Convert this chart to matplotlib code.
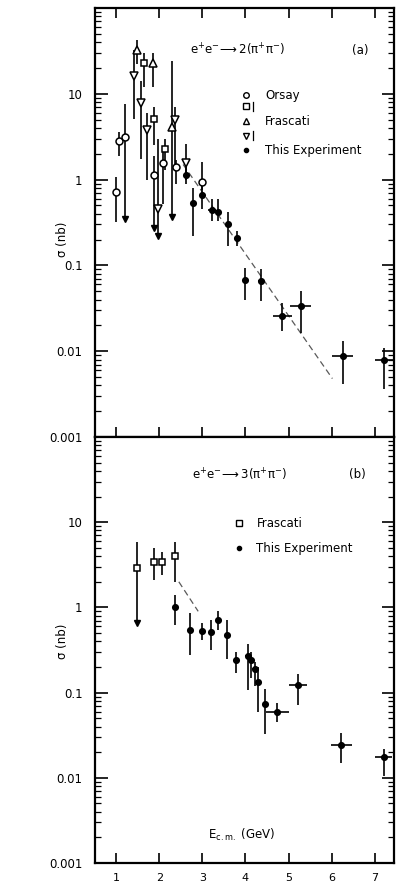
import numpy as np
import matplotlib.pyplot as plt
from matplotlib.ticker import LogLocator, NullFormatter

# ---- panel (a): e+e- -> 2(pi+pi-) ----
orsay_x = [0.98, 1.07, 1.19, 1.88, 2.09, 2.38, 2.99]
orsay_y = [0.72, 2.8, 3.1, 1.14, 1.58, 1.4, 0.94]
orsay_hi = [1.08, 3.6, 7.6, 1.9, 2.4, 1.7, 1.6]
orsay_lo = [0.32, 1.9, 0.35, 0.27, 0.52, 0.9, 0.75]
orsay_arrow = [0, 0, 1, 1, 0, 0, 0]

frasq_x = [1.65, 1.88, 2.14]
frasq_y = [23, 5.1, 2.3]
frasq_hi = [30, 7.0, 3.0]
frasq_lo = [12, 2.5, 1.3]

fratri_x = [1.47, 1.84, 2.29]
fratri_y = [32, 23, 4.1]
fratri_hi = [42, 30, 24]
fratri_lo = [22, 12, 0.37]
fratri_arrow = [0, 0, 1]

fradn_x = [1.40, 1.57, 1.71, 1.96, 2.37, 2.62]
fradn_y = [16, 7.8, 3.8, 0.46, 5.0, 1.58]
fradn_hi = [32, 14, 5.9, 3.0, 7.0, 2.6]
fradn_lo = [5.1, 1.75, 1.0, 0.22, 1.3, 1.0]
fradn_arrow = [0, 0, 0, 1, 0, 0]

exp_a_x = [2.61, 2.79, 2.99, 3.22, 3.37, 3.60, 3.80, 3.98, 4.35, 4.86, 5.28, 6.26, 7.23]
exp_a_y = [1.14, 0.54, 0.66, 0.44, 0.42, 0.30, 0.21, 0.068, 0.065, 0.026, 0.034, 0.0087, 0.0078]
exp_a_hi = [1.5, 0.8, 0.9, 0.6, 0.6, 0.42, 0.25, 0.093, 0.09, 0.036, 0.051, 0.013, 0.011]
exp_a_lo = [0.9, 0.22, 0.45, 0.33, 0.33, 0.17, 0.17, 0.040, 0.038, 0.017, 0.0164, 0.0041, 0.0036]
exp_a_xerr = [0, 0, 0, 0.1, 0, 0, 0, 0, 0.05, 0.22, 0.25, 0.25, 0.21]

fit_a_x = [2.55, 6.02]
fit_a_y = [1.5, 0.0048]

# ---- panel (b): e+e- -> 3(pi+pi-) ----
frasq_b_x = [1.47, 1.88, 2.07, 2.37]
frasq_b_y = [2.9, 3.45, 3.45, 4.05]
frasq_b_hi = [5.9, 5.0, 4.5, 5.9]
frasq_b_lo = [0.66, 2.1, 2.4, 2.0]
frasq_b_arrow = [1, 0, 0, 0]

exp_b_x = [2.37, 2.70, 2.98, 3.19, 3.35, 3.58, 3.79, 4.05, 4.12, 4.21, 4.30, 4.46, 4.74, 5.23, 6.23, 7.21]
exp_b_y = [1.0, 0.55, 0.53, 0.52, 0.72, 0.48, 0.24, 0.27, 0.24, 0.19, 0.135, 0.074, 0.059, 0.123, 0.0245, 0.0174]
exp_b_hi = [1.4, 0.86, 0.65, 0.72, 0.92, 0.72, 0.30, 0.37, 0.30, 0.23, 0.20, 0.11, 0.075, 0.165, 0.034, 0.022]
exp_b_lo = [0.63, 0.28, 0.42, 0.32, 0.55, 0.25, 0.17, 0.108, 0.15, 0.12, 0.06, 0.033, 0.045, 0.072, 0.015, 0.0105]
exp_b_xerr = [0, 0, 0, 0, 0, 0, 0, 0.06, 0.06, 0.06, 0.06, 0, 0.26, 0.21, 0.25, 0.2]

fit_b_x = [2.45, 2.9]
fit_b_y = [2.0, 0.9]

yticks = [0.001, 0.01, 0.1, 1, 10]
ytick_labels = ['0.001', '0.01', '0.1', '1', '10']
xticks = [1, 2, 3, 4, 5, 6, 7]

plt.rcParams['font.family'] = 'DejaVu Sans'
plt.rcParams['mathtext.default'] = 'regular'


def draw(ax, x, y, hi, lo, marker, fill, ms, xerr=None, arrow=None):
    y = np.array(y, dtype=float)
    yerr = [y - np.array(lo), np.array(hi) - y]
    ax.errorbar(x, y, yerr=yerr, xerr=xerr, fmt=marker, ms=ms,
                mfc='k' if fill else 'white', mec='k', mew=1.1,
                ecolor='k', elinewidth=1.2, capsize=0, zorder=3)
    if arrow is not None:
        for xi, li, a in zip(x, lo, arrow):
            if a:
                ax.plot(xi, li, marker='v', ms=3.8, color='k', zorder=3)


def style(ax, top_ticks):
    ax.set_yscale('log')
    ax.set_ylim(0.001, 100)
    ax.set_xlim(0.5, 7.45)
    ax.set_yticks(yticks)
    ax.set_yticklabels(ytick_labels)
    ax.yaxis.set_minor_locator(LogLocator(base=10, subs=np.arange(2, 10)))
    ax.yaxis.set_minor_formatter(NullFormatter())
    ax.set_xticks(xticks)
    ax.tick_params(axis='y', which='major', direction='in', length=9, width=1.2,
                   left=True, right=True, labelsize=8.5, pad=9)
    ax.tick_params(axis='y', which='minor', direction='in', length=4, width=0.9,
                   left=True, right=True)
    ax.tick_params(axis='x', direction='in', length=7, width=1.2,
                   top=top_ticks, bottom=True, labelsize=8, pad=7)
    for s in ax.spines.values():
        s.set_linewidth(1.6)


fig = plt.figure(figsize=(4.04, 8.89), dpi=100)
ax1 = fig.add_axes([0.235, 0.5084, 0.740, 0.4826])
ax2 = fig.add_axes([0.235, 0.0292, 0.740, 0.4792])

# panel (a)
style(ax1, True)
ax1.tick_params(axis='x', labelbottom=False)
ax1.plot(fit_a_x, fit_a_y, ls=(0, (5, 3)), color='0.35', lw=0.9, zorder=2)
draw(ax1, orsay_x, orsay_y, orsay_hi, orsay_lo, 'o', False, 5, arrow=orsay_arrow)
draw(ax1, frasq_x, frasq_y, frasq_hi, frasq_lo, 's', False, 5)
draw(ax1, fratri_x, fratri_y, fratri_hi, fratri_lo, '^', False, 5.5, arrow=fratri_arrow)
draw(ax1, fradn_x, fradn_y, fradn_hi, fradn_lo, 'v', False, 5.5, arrow=fradn_arrow)
draw(ax1, exp_a_x, exp_a_y, exp_a_hi, exp_a_lo, 'o', True, 4, xerr=exp_a_xerr)

ax1.text(0.318, 0.902, r'$e^{+}e^{-}\!\longrightarrow 2(\pi^{+}\pi^{-})$',
         transform=ax1.transAxes, fontsize=8.5, va='center')
ax1.text(0.86, 0.902, '(a)', transform=ax1.transAxes, fontsize=8.5, va='center')

lx = 0.505
ax1.plot(lx, 0.797, 'o', ms=4, mfc='white', mec='k', transform=ax1.transAxes)
ax1.plot(lx, 0.772, 's', ms=4, mfc='white', mec='k', transform=ax1.transAxes)
ax1.plot(lx, 0.736, '^', ms=4.5, mfc='white', mec='k', transform=ax1.transAxes)
ax1.plot(lx, 0.702, 'v', ms=4.5, mfc='white', mec='k', transform=ax1.transAxes)
ax1.plot(lx, 0.669, 'o', ms=3, color='k', transform=ax1.transAxes)
ax1.plot([0.528, 0.528], [0.760, 0.782], color='k', lw=0.9, transform=ax1.transAxes)
ax1.plot([0.528, 0.528], [0.692, 0.714], color='k', lw=0.9, transform=ax1.transAxes)
ax1.text(0.57, 0.797, 'Orsay', transform=ax1.transAxes, fontsize=8.5, va='center')
ax1.text(0.57, 0.736, 'Frascati', transform=ax1.transAxes, fontsize=8.5, va='center')
ax1.text(0.57, 0.669, 'This Experiment', transform=ax1.transAxes, fontsize=8.5, va='center')
ax1.text(-0.11, 0.46, 'σ (nb)', transform=ax1.transAxes, rotation=90,
         fontsize=8.5, ha='center', va='center')

# panel (b)
style(ax2, False)
ax2.set_xticklabels([str(v) for v in xticks])
ax2.plot(fit_b_x, fit_b_y, ls=(0, (5, 3)), color='0.35', lw=0.9, zorder=2)
draw(ax2, frasq_b_x, frasq_b_y, frasq_b_hi, frasq_b_lo, 's', False, 5, arrow=frasq_b_arrow)
draw(ax2, exp_b_x, exp_b_y, exp_b_hi, exp_b_lo, 'o', True, 4, xerr=exp_b_xerr)

ax2.text(0.325, 0.911, r'$e^{+}e^{-}\!\longrightarrow 3(\pi^{+}\pi^{-})$',
         transform=ax2.transAxes, fontsize=8.5, va='center')
ax2.text(0.85, 0.911, '(b)', transform=ax2.transAxes, fontsize=8.5, va='center')
ax2.plot(0.482, 0.798, 's', ms=4, mfc='white', mec='k', transform=ax2.transAxes)
ax2.plot(0.482, 0.739, 'o', ms=3, color='k', transform=ax2.transAxes)
ax2.text(0.54, 0.798, 'Frascati', transform=ax2.transAxes, fontsize=8.5, va='center')
ax2.text(0.54, 0.739, 'This Experiment', transform=ax2.transAxes, fontsize=8.5, va='center')
ax2.text(0.49, 0.066, r'E$_{c.m.}$ (GeV)', transform=ax2.transAxes,
         fontsize=8.5, ha='center', va='center')
ax2.text(-0.11, 0.52, 'σ (nb)', transform=ax2.transAxes, rotation=90,
         fontsize=8.5, ha='center', va='center')

fig.savefig('out.png', dpi=100)
